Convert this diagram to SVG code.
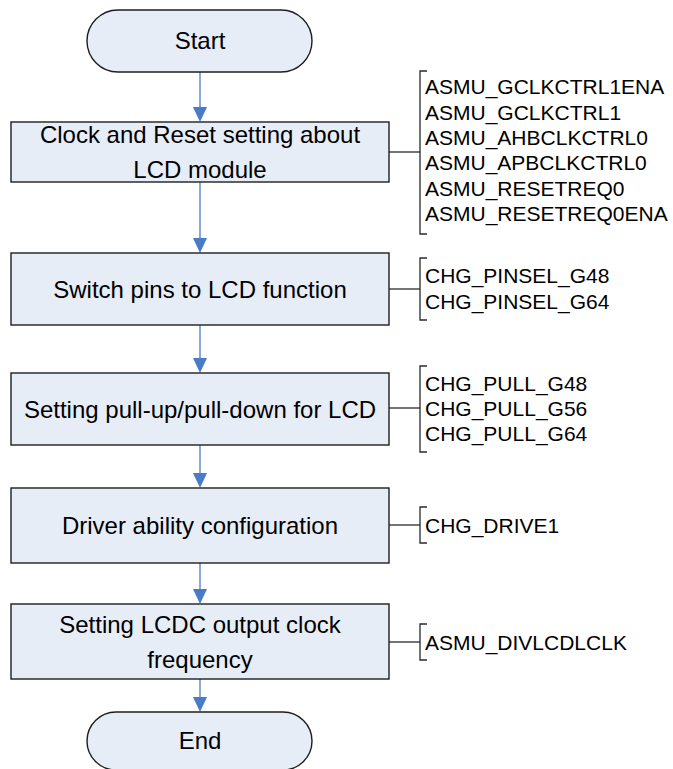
<svg xmlns="http://www.w3.org/2000/svg" width="673" height="769" viewBox="0 0 673 769">
  <defs>
    <style>
      .term, .proc { fill: #e7edf7; stroke: #1e1e1e; stroke-width: 1.4; }
      .label { font-family: "Liberation Sans", Arial, sans-serif; font-size: 24px; fill: #000; text-anchor: middle; }
      .reg { font-family: "Liberation Sans", Arial, sans-serif; font-size: 21px; fill: #000; }
      .flow { stroke: #4a7bc6; stroke-width: 1.3; fill: none; }
      .head { fill: #4a7bc6; }
      .side { stroke: #2a2a2a; stroke-width: 1.3; fill: none; }
    </style>
  </defs>
  <rect width="673" height="769" fill="#ffffff"/>

  <!-- flow connectors -->
  <g id="connectors">
    <line class="flow" x1="200" y1="72" x2="200" y2="107"/>
    <path class="head" d="M193,107 L207,107 L200,122 Z"/>
    <line class="flow" x1="200" y1="182" x2="200" y2="238"/>
    <path class="head" d="M193,238 L207,238 L200,253 Z"/>
    <line class="flow" x1="200" y1="325" x2="200" y2="358"/>
    <path class="head" d="M193,358 L207,358 L200,373 Z"/>
    <line class="flow" x1="200" y1="445" x2="200" y2="473"/>
    <path class="head" d="M193,473 L207,473 L200,488 Z"/>
    <line class="flow" x1="200" y1="563" x2="200" y2="589"/>
    <path class="head" d="M193,589 L207,589 L200,604 Z"/>
    <line class="flow" x1="200" y1="679" x2="200" y2="697"/>
    <path class="head" d="M193,697 L207,697 L200,712 Z"/>

    <!-- register annotation leaders -->
    <line class="side" x1="389" y1="152" x2="420" y2="152"/>
    <line class="side" x1="389" y1="289" x2="420" y2="289"/>
    <line class="side" x1="389" y1="408" x2="420" y2="408"/>
    <line class="side" x1="389" y1="525" x2="420" y2="525"/>
    <line class="side" x1="389" y1="642" x2="420" y2="642"/>
  </g>

  <g id="start">
    <rect class="term" x="87" y="10" width="225" height="62" rx="31" ry="31"/>
    <text class="label" x="200" y="49">Start</text>
  </g>

  <g id="clock-reset">
    <rect class="proc" x="11" y="122" width="378" height="60"/>
    <text class="label" x="200" y="143">Clock and Reset setting about</text>
    <text class="label" x="200" y="178">LCD module</text>
  </g>

  <g id="clock-reset-regs">
    <path class="side" d="M427,71 L420,71 L420,234 L427,234"/>
    <text class="reg" x="425" y="94">ASMU_GCLKCTRL1ENA</text>
    <text class="reg" x="425" y="119.5">ASMU_GCLKCTRL1</text>
    <text class="reg" x="425" y="145">ASMU_AHBCLKCTRL0</text>
    <text class="reg" x="425" y="170">ASMU_APBCLKCTRL0</text>
    <text class="reg" x="425" y="195.5">ASMU_RESETREQ0</text>
    <text class="reg" x="425" y="221">ASMU_RESETREQ0ENA</text>
  </g>

  <g id="pin-switch">
    <rect class="proc" x="11" y="253" width="378" height="72"/>
    <text class="label" x="200" y="298">Switch pins to LCD function</text>
  </g>

  <g id="pin-switch-regs">
    <path class="side" d="M427,258 L420,258 L420,320 L427,320"/>
    <text class="reg" x="425" y="283">CHG_PINSEL_G48</text>
    <text class="reg" x="425" y="308.5">CHG_PINSEL_G64</text>
  </g>

  <g id="pull-setting">
    <rect class="proc" x="11" y="373" width="378" height="72"/>
    <text class="label" x="200" y="418">Setting pull-up/pull-down for LCD</text>
  </g>

  <g id="pull-setting-regs">
    <path class="side" d="M427,366 L420,366 L420,452 L427,452"/>
    <text class="reg" x="425" y="390.5">CHG_PULL_G48</text>
    <text class="reg" x="425" y="415.5">CHG_PULL_G56</text>
    <text class="reg" x="425" y="440.5">CHG_PULL_G64</text>
  </g>

  <g id="drive-config">
    <rect class="proc" x="11" y="488" width="378" height="75"/>
    <text class="label" x="200" y="534">Driver ability configuration</text>
  </g>

  <g id="drive-config-regs">
    <path class="side" d="M427,507 L420,507 L420,543 L427,543"/>
    <text class="reg" x="425" y="532.5">CHG_DRIVE1</text>
  </g>

  <g id="lcdc-clock">
    <rect class="proc" x="11" y="604" width="378" height="75"/>
    <text class="label" x="200" y="633">Setting LCDC output clock</text>
    <text class="label" x="200" y="668">frequency</text>
  </g>

  <g id="lcdc-clock-regs">
    <path class="side" d="M427,624 L420,624 L420,660 L427,660"/>
    <text class="reg" x="425" y="649.5">ASMU_DIVLCDLCLK</text>
  </g>

  <g id="end">
    <rect class="term" x="87" y="712" width="225" height="58" rx="29" ry="29"/>
    <text class="label" x="200" y="749">End</text>
  </g>
</svg>
